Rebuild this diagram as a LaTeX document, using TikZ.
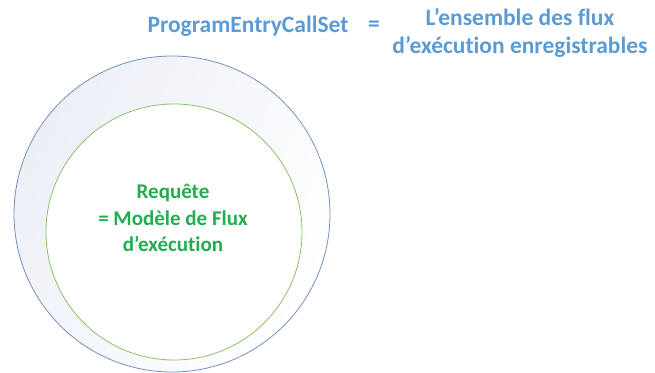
\documentclass[tikz,border=0pt]{standalone}
\usepackage{fontspec}
\setmainfont{Carlito}[Ligatures=NoCommon]
\definecolor{setblue}{HTML}{5B9BD5}
\definecolor{setline}{HTML}{7391BD}
\definecolor{reqgreen}{HTML}{22AD4F}
\definecolor{reqline}{HTML}{8CC168}
\definecolor{shadeblue}{HTML}{ECEFF6}
\tikzset{
  set text/.style={align=center, text=setblue, font=\bfseries\fontsize{23.5}{28}\selectfont},
  req text/.style={align=center, text=reqgreen, font=\bfseries\fontsize{21}{26.5}\selectfont},
}
\begin{document}
\begin{tikzpicture}[x=1pt, y=1pt]
\useasboundingbox (0,0) rectangle (655,372);
\shade[shading=axis, left color=shadeblue, right color=white, shading angle=60] (172,158) circle (158);
\node (callset) [shape=circle, minimum size=316pt, draw=setline, line width=0.8pt] at (172,158) {};
\node (request) [shape=circle, minimum size=256pt, draw=reqline, fill=white, line width=0.8pt] at (174,140) {};
\node (reqtext) [req text] at (173,154) {Requête\\= Modèle de Flux\\d’exécution};
\node (setname) [set text] at (248,346) {ProgramEntryCallSet};
\node (equals) [set text] at (374,346) {=};
\node (settext) [set text] at (520,339) {L’ensemble des flux\\d’exécution enregistrables};
\end{tikzpicture}
\end{document}
